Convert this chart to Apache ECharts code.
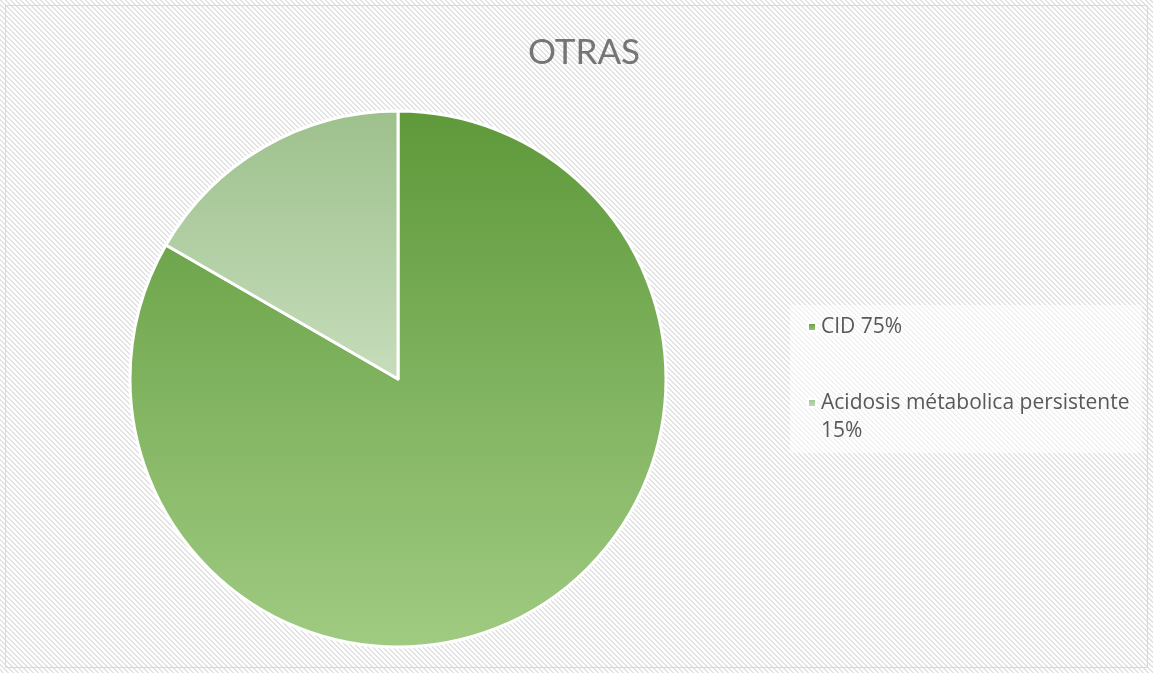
<!DOCTYPE html>
<html>
<head>
<meta charset="utf-8">
<script src="https://cdn.jsdelivr.net/npm/echarts@6/dist/echarts.min.js"></script>
<style>
html,body{margin:0;padding:0;background:#fff;}
#chart{width:1153px;height:673px;}
</style>
</head>
<body>
<div id="chart"></div>
<script>
const title = 'OTRAS';
const categories = ['CID 75%', 'Acidosis métabolica persistente 15%'];
const values = [75, 15];

// hatch pattern tile
const tile = document.createElement('canvas');
tile.width = 5; tile.height = 5;
const tctx = tile.getContext('2d');
tctx.fillStyle = '#ffffff';
tctx.fillRect(0, 0, 5, 5);
tctx.fillStyle = '#e2e2e2';
for (let y = 0; y < 5; y++) {
  for (let x = 0; x < 5; x++) {
    const d = ((x - y) % 5 + 5) % 5;
    if (d === 0 || d === 1) tctx.fillRect(x, y, 1, 1);
  }
}

const colors = [
  {type: 'linear', x: 0, y: 0, x2: 0, y2: 1, colorStops: [
    {offset: 0, color: '#5e993a'}, {offset: 1, color: '#a0cb82'}]},
  {type: 'linear', x: 0, y: 0, x2: 0, y2: 1, colorStops: [
    {offset: 0, color: '#9dc08c'}, {offset: 1, color: '#c6ddbb'}]}
];

const chart = echarts.init(document.getElementById('chart'), null, {renderer: 'canvas'});
chart.setOption({
  backgroundColor: {image: tile, repeat: 'repeat'},
  animation: false,
  title: {
    text: title,
    left: 579, top: 30, textAlign: 'center',
    textStyle: {fontFamily: 'Lato', fontSize: 35, fontWeight: 'normal', color: '#757575'}
  },
  graphic: [
    {type: 'rect', shape: {x: 5.5, y: 5.5, width: 1142, height: 662},
     style: {fill: 'none', stroke: '#d9d9d9', lineWidth: 1}, silent: true},
    {type: 'rect', shape: {x: 790, y: 305, width: 352, height: 148},
     style: {fill: 'rgba(255,255,255,0.55)'}, silent: true, z: -1}
  ],
  legend: {
    orient: 'vertical',
    left: 807, top: 313,
    padding: 0,
    itemWidth: 8, itemHeight: 8,
    itemGap: 20,
    icon: 'rect',
    data: categories,
    formatter: function (name) {
      // leading blank line keeps the marker aligned with the first text line of wrapped entries
      return name === categories[0] ? name : '\n' + name;
    },
    textStyle: {fontFamily: 'Open Sans', fontSize: 21, color: '#595959', width: 330, overflow: 'break', lineHeight: 28}
  },
  series: [{
    type: 'pie',
    center: [398, 379],
    radius: 268,
    startAngle: 90,
    clockwise: true,
    label: {show: false},
    labelLine: {show: false},
    itemStyle: {borderColor: '#ffffff', borderWidth: 3},
    data: categories.map((c, i) => ({name: c, value: values[i], itemStyle: {color: colors[i]}}))
  }]
});
</script>
</body>
</html>
